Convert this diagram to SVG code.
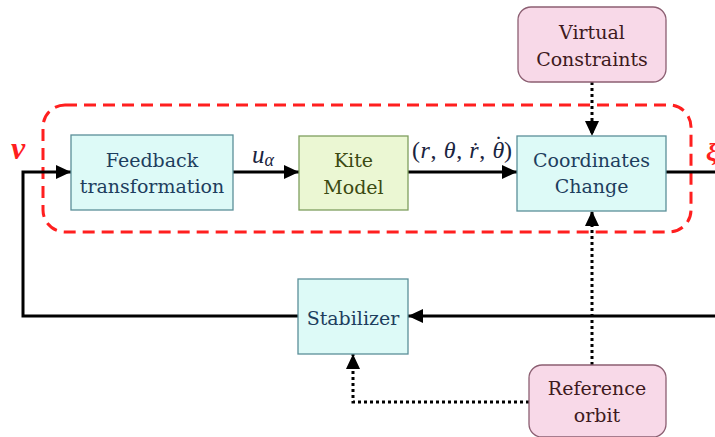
<svg xmlns="http://www.w3.org/2000/svg" width="715" height="437" viewBox="0 0 715 437">
<defs>
<style>
.cyan{fill:#ddfaf7;stroke:#5b8f99;stroke-width:1.3}
.green{fill:#ebf7d3;stroke:#7f9f5f;stroke-width:1.3}
.pink{fill:#f8d9e8;stroke:#8c5f72;stroke-width:1.3}
.t{font-family:"DejaVu Serif","Liberation Serif",serif;font-size:19px;text-anchor:middle}
.tc{fill:#1d3e5e}
.tg{fill:#3b4a12}
.tp{fill:#3e1a20}
.wire{fill:none;stroke:#000;stroke-width:3}
.dot{fill:none;stroke:#000;stroke-width:3;stroke-dasharray:3 3}
.math{font-family:"Liberation Serif","DejaVu Serif",serif;fill:#1a2440}
.red{font-family:"Liberation Serif","DejaVu Serif",serif;font-style:italic;font-weight:bold;fill:#ff1f1f}
</style>
<marker id="ah" markerUnits="userSpaceOnUse" markerWidth="16" markerHeight="14" refX="15" refY="7" orient="auto">
<path d="M0,0 L15,7 L0,14 z" fill="#000"/>
</marker>
</defs>
<rect width="715" height="437" fill="#fff"/>
<rect x="43" y="105" width="648" height="127" rx="22" fill="none" stroke="#ff1f1f" stroke-width="3" stroke-dasharray="12 7"/>
<g id="connectors">
<path class="wire" d="M233,172 L299,172" marker-end="url(#ah)"/>
<path class="wire" d="M408,172 L517,172" marker-end="url(#ah)"/>
<path class="wire" d="M666,172 L715,172"/>
<path class="wire" d="M715,316 L408,316" marker-end="url(#ah)"/>
<path class="wire" d="M298,316 L23,316 L23,172 L71,172" marker-end="url(#ah)"/>
<path class="dot" d="M592,82 L592,136" marker-end="url(#ah)"/>
<path class="dot" d="M592,365 L592,211" marker-end="url(#ah)"/>
<path class="dot" d="M529,402 L353,402 L353,354" marker-end="url(#ah)"/>
</g>
<g id="feedback">
<rect class="cyan" x="71" y="135" width="162" height="75"/>
<text class="t tc" x="152" y="167">Feedback</text>
<text class="t tc" x="152" y="193">transformation</text>
</g>
<g id="kite">
<rect class="green" x="299" y="136" width="109" height="74"/>
<text class="t tg" x="353.5" y="167">Kite</text>
<text class="t tg" x="353.5" y="194">Model</text>
</g>
<g id="coords">
<rect class="cyan" x="517" y="136" width="149" height="75"/>
<text class="t tc" x="591.5" y="167">Coordinates</text>
<text class="t tc" x="591.5" y="193">Change</text>
</g>
<g id="virtual">
<rect class="pink" x="518" y="7" width="148" height="75" rx="13"/>
<text class="t tp" x="592" y="39">Virtual</text>
<text class="t tp" x="592" y="66">Constraints</text>
</g>
<g id="stabilizer">
<rect class="cyan" x="298" y="279" width="110" height="75"/>
<text class="t tc" x="353" y="325">Stabilizer</text>
</g>
<g id="reference">
<rect class="pink" x="529" y="365" width="137" height="72" rx="13"/>
<text class="t tp" x="597" y="395">Reference</text>
<text class="t tp" x="597" y="422">orbit</text>
</g>
<g id="labels">
<text class="math" x="412" y="158" font-size="24" letter-spacing="0.6">(<tspan font-style="italic">r</tspan>, <tspan font-style="italic">θ</tspan>, <tspan font-style="italic">ṙ</tspan>, <tspan font-style="italic">θ</tspan><tspan dx="-10.5" dy="-6">˙</tspan><tspan dx="1" dy="6">)</tspan></text>
<text class="math" x="252" y="163" font-size="25" font-style="italic">u<tspan font-size="18" dy="3">α</tspan></text>
<text class="red" x="11" y="159" font-size="32">v</text>
<text class="red" x="706" y="161" font-size="26">ξ</text>
</g>
</svg>
